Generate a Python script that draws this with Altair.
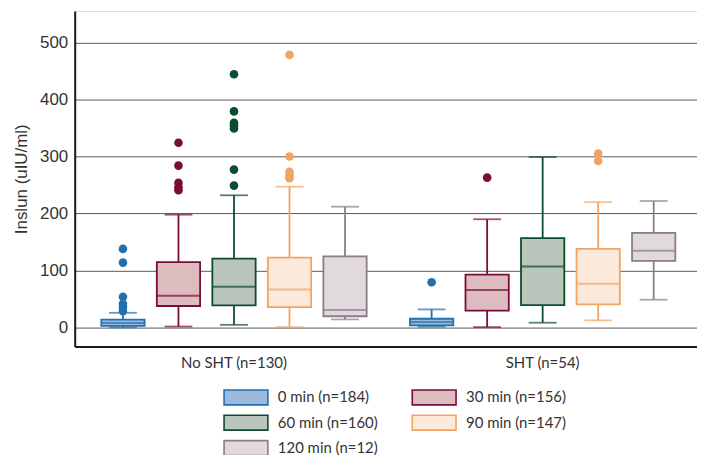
import altair as alt
import pandas as pd

groups = ["No SHT (n=130)", "SHT (n=54)"]
series = ["0 min (n=184)", "30 min (n=156)", "60 min (n=160)", "90 min (n=147)", "120 min (n=12)"]

# summary stats per group (order of series)
lower = {"No SHT (n=130)": [0.5, 2, 5, 1, 14.5], "SHT (n=54)": [1.7, 1, 8.7, 12.7, 49]}
q1 = {"No SHT (n=130)": [3, 38, 39, 36, 20], "SHT (n=54)": [4, 30, 39.5, 41, 117]}
median = {"No SHT (n=130)": [8, 56, 71.5, 67, 31], "SHT (n=54)": [10, 66, 107, 77, 135]}
q3 = {"No SHT (n=130)": [14, 115, 121, 122.6, 125], "SHT (n=54)": [15.6, 93, 157, 138, 166]}
upper = {"No SHT (n=130)": [26, 198, 232, 247, 212], "SHT (n=54)": [32, 190, 299, 220, 222]}

outliers = {
    "No SHT (n=130)": {
        "0 min (n=184)": [138, 114, 54, 42, 36, 29],
        "30 min (n=156)": [324, 284, 254, 246, 241],
        "60 min (n=160)": [444, 379, 359, 354, 349, 277, 249],
        "90 min (n=147)": [478, 300, 273, 267, 262],
        "120 min (n=12)": [],
    },
    "SHT (n=54)": {
        "0 min (n=184)": [79.5],
        "30 min (n=156)": [263],
        "60 min (n=160)": [],
        "90 min (n=147)": [305, 292],
        "120 min (n=12)": [],
    },
}

dark = ["#2171b0", "#7a0d35", "#0b4d2c", "#f0a462", "#8c7c86"]
light = ["#9db9dc", "#ddbcc0", "#bac5bb", "#fbeadb", "#e0d9de"]

rows = []
for g in groups:
    for i, s in enumerate(series):
        rows.append({"group": g, "series": s, "lower": lower[g][i], "q1": q1[g][i],
                     "median": median[g][i], "q3": q3[g][i], "upper": upper[g][i]})
summary = pd.DataFrame(rows)

orow = []
for g in groups:
    for s in series:
        for v in outliers[g][s]:
            orow.append({"group": g, "series": s, "value": v})
out_df = pd.DataFrame(orow)

FONT = "Lato"
YFONT = "Liberation Sans"

x_enc = alt.X("group:N", sort=groups, title=None,
              scale=alt.Scale(paddingInner=0, paddingOuter=0.008, align=1),
              axis=alt.Axis(labelFontSize=15, labelColor="#333333", labelFont=FONT,
                            ticks=False, domainColor="#1a1a1a", domainWidth=2,
                            labelPadding=9, labelAngle=0))
xo_enc = alt.XOffset("series:N", sort=series,
                     scale=alt.Scale(paddingInner=0.22, paddingOuter=0.39))
yscale = alt.Scale(domain=[-33, 555], nice=False, zero=False)
# colour scale for whiskers / caps / medians / points (hidden legend);
# listed in reverse so its legend is not merged with the fill/stroke legend
color_dark = alt.Color("series:N",
                       scale=alt.Scale(domain=series[::-1], range=dark[::-1]), legend=None)

base = alt.Chart(summary)

whisk = base.mark_rule(strokeWidth=1.8).encode(
    x=x_enc, xOffset=xo_enc,
    y=alt.Y("lower:Q", scale=yscale, title="Inslun (uIU/ml)",
            axis=alt.Axis(values=[0, 100, 200, 300, 400, 500], grid=True,
                          gridColor="#5a5a5a", gridWidth=1, ticks=False,
                          domainColor="#1a1a1a", domainWidth=2,
                          labelFontSize=17, labelColor="#333333", labelFont=YFONT,
                          labelPadding=7, titleFontSize=17, titleColor="#333333",
                          titleFont=YFONT, titleFontWeight="normal", titlePadding=9)),
    y2="upper:Q",
    color=color_dark,
)

legend = alt.Legend(title=None, orient="none", legendX=161, legendY=377,
                    columns=2, direction="horizontal",
                    symbolType="M-2.2,-0.75L2.2,-0.75L2.2,0.75L-2.2,0.75Z",
                    symbolSize=400, symbolStrokeWidth=1.6, labelOffset=21,
                    labelFontSize=15, labelColor="#333333", labelFont=FONT,
                    rowPadding=3.5, columnPadding=30, padding=0)

box = base.mark_bar(strokeWidth=1.8).encode(
    x=x_enc, xOffset=xo_enc,
    y=alt.Y("q1:Q", scale=yscale),
    y2="q3:Q",
    fill=alt.Fill("series:N", scale=alt.Scale(domain=series, range=light), legend=legend),
    stroke=alt.Stroke("series:N", scale=alt.Scale(domain=series, range=dark), legend=legend),
)

caps = base.transform_fold(["lower", "upper"], as_=["k", "v"]).mark_tick(
    size=28, thickness=1.8).encode(
    x=x_enc, xOffset=xo_enc,
    y=alt.Y("v:Q", scale=yscale),
    color=color_dark,
)

med = base.mark_tick(size=43, thickness=2).encode(
    x=x_enc, xOffset=xo_enc,
    y=alt.Y("median:Q", scale=yscale),
    color=color_dark,
)

pts = alt.Chart(out_df).mark_circle(size=75, opacity=1).encode(
    x=x_enc, xOffset=xo_enc,
    y=alt.Y("value:Q", scale=yscale),
    color=color_dark,
)

chart = alt.layer(whisk, box, caps, med, pts).properties(
    width=625, height=337,
    autosize=alt.AutoSizeParams(type="none"),
    padding={"left": 67, "top": 2, "right": 0, "bottom": 108},
).configure_view(stroke=None).configure(font=FONT)

chart.save("out.html", embed_options={"renderer": "svg", "actions": False})
